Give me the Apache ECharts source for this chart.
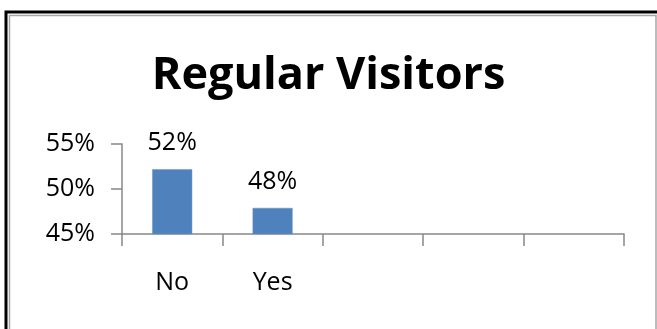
<!DOCTYPE html>
<html>
<head>
<meta charset="utf-8">
<style>
  html, body { margin: 0; padding: 0; background: #fff; }
  #chart { width: 657px; height: 329px; }
</style>
<script src="https://cdn.jsdelivr.net/npm/echarts@6/dist/echarts.min.js"></script>
</head>
<body>
<div id="chart"></div>
<script>
const titleText = 'Regular Visitors';
const categories = ['No', 'Yes', '', '', ''];
const values = [52.2, 47.9, null, null, null];
const yTicks = [45, 50, 55];

const chart = echarts.init(document.getElementById('chart'), null, { renderer: 'canvas' });
const font = "'Open Sans', sans-serif";
chart.setOption({
  animation: false,
  backgroundColor: '#fff',
  title: {
    text: titleText,
    left: 'center',
    top: 49,
    textStyle: { fontFamily: font, fontWeight: 'bold', fontSize: 45, color: '#000' }
  },
  graphic: [
    { type: 'rect', silent: true, shape: { x: 6, y: 12, width: 700, height: 400 },
      style: { fill: null, stroke: '#000', lineWidth: 3 } },
    { type: 'rect', silent: true, shape: { x: 9.5, y: 15.5, width: 646.5, height: 400 },
      style: { fill: null, stroke: '#a6a6a6', lineWidth: 1.5 } }
  ],
  grid: { left: 122, right: 33, top: 144, bottom: 95, containLabel: false },
  xAxis: {
    type: 'category',
    data: categories,
    axisLine: { lineStyle: { color: '#888', width: 1.5 } },
    axisTick: { show: true, length: 12, alignWithLabel: false, lineStyle: { color: '#888', width: 1.5 } },
    axisLabel: { margin: 36, color: '#000', fontFamily: font, fontSize: 25 }
  },
  yAxis: {
    type: 'value',
    min: yTicks[0],
    max: yTicks[yTicks.length - 1],
    interval: yTicks[1] - yTicks[0],
    splitLine: { show: false },
    axisLine: { show: true, lineStyle: { color: '#888', width: 1.5 } },
    axisTick: { show: true, length: 11, lineStyle: { color: '#888', width: 1.5 } },
    axisLabel: { margin: 27, color: '#000', fontFamily: font, fontSize: 25, formatter: v => v + '%' }
  },
  series: [{
    type: 'bar',
    data: values,
    barWidth: 40,
    itemStyle: { color: '#4F81BD', borderColor: '#6b95c8', borderWidth: 0.5 },
    label: {
      show: true,
      position: 'top',
      distance: 14,
      color: '#000',
      fontFamily: font,
      fontSize: 25,
      formatter: p => Math.round(p.value) + '%'
    }
  }]
});
</script>
</body>
</html>
